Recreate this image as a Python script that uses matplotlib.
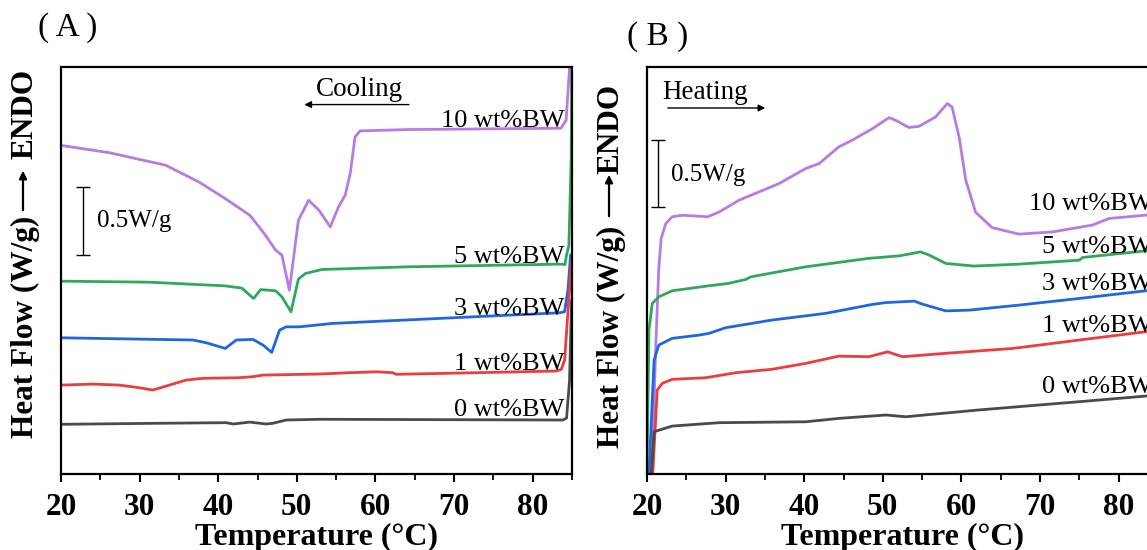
import matplotlib
matplotlib.use("Agg")
import matplotlib.pyplot as plt
from matplotlib.patches import FancyArrowPatch
from matplotlib.ticker import MultipleLocator

plt.rcParams["font.family"] = ["Liberation Serif", "DejaVu Serif"]

# ---- (A) cooling curves: temperature (C) and heat flow (W/g, stacked) ----
cool_10_t = [20.0, 26.2, 33.3, 37.6, 40.9, 44.0, 45.2, 46.0, 47.3, 48.1, 49.05, 50.2, 51.5, 52.8,
             54.25, 55.3, 56.15, 56.8, 57.4, 58.05, 64.2, 83.6, 84.25, 84.7, 84.8]
cool_10_q = [2.08, 2.03, 1.946, 1.831, 1.72, 1.608, 1.529, 1.473, 1.372, 1.338, 1.101, 1.574, 1.709,
             1.642, 1.529, 1.664, 1.743, 1.892, 2.137, 2.178, 2.187, 2.196, 2.25, 2.61, 3.0]
cool_5_t = [20.0, 31.2, 40.9, 43.0, 44.5, 45.4, 47.3, 48.1, 49.25, 50.2, 51.1, 53.2,
            64.2, 83.6, 84.1, 84.3, 84.6, 84.9, 85.0]
cool_5_q = [1.162, 1.155, 1.130, 1.115, 1.045, 1.105, 1.097, 1.056, 0.955, 1.176, 1.214, 1.241,
            1.259, 1.277, 1.274, 1.338, 1.40, 2.0, 3.0]
cool_3_t = [20.0, 36.8, 38.5, 40.9, 42.3, 44.4, 45.7, 46.8, 47.8, 48.65, 50.3, 54.5,
            83.4, 84.06, 84.48, 84.82]
cool_3_q = [0.779, 0.764, 0.745, 0.707, 0.764, 0.768, 0.730, 0.680, 0.831, 0.853, 0.853, 0.876,
            0.948, 0.955, 1.101, 1.338]
cool_1_t = [20.0, 24.05, 27.4, 29.6, 31.7, 33.4, 35.9, 38.0, 42.7, 44.4, 45.7, 52.9,
            56.7, 60.1, 62.2, 62.65, 83.0, 83.64, 84.06, 84.5, 84.95]
cool_1_q = [0.459, 0.466, 0.459, 0.444, 0.426, 0.453, 0.493, 0.505, 0.509, 0.516, 0.527, 0.534,
            0.543, 0.549, 0.543, 0.532, 0.554, 0.566, 0.628, 0.966, 1.304]
cool_0_t = [20.0, 32.5, 41.0, 41.9, 44.0, 46.1, 46.95, 48.65, 52.9, 83.84, 84.31, 84.69, 84.95]
cool_0_q = [0.194, 0.201, 0.205, 0.196, 0.209, 0.196, 0.201, 0.223, 0.228, 0.223, 0.236, 0.493, 1.03]

# ---- (B) heating curves ----
heat_10_t = [20.6, 21.1, 21.5, 21.8, 22.4, 23.2, 24.5, 27.7, 29.2, 31.7, 36.8, 40.2, 41.9,
             44.4, 46.1, 48.7, 50.8, 51.8, 53.3, 54.6, 56.7, 58.2, 58.8, 59.7, 60.55, 61.8,
             63.9, 67.3, 71.6, 76.65, 78.8, 83.45, 85.0]
heat_10_q = [-0.2, 0.70, 1.25, 1.45, 1.552, 1.597, 1.608, 1.597, 1.630, 1.709, 1.822, 1.924, 1.957,
             2.070, 2.115, 2.194, 2.268, 2.245, 2.201, 2.209, 2.272, 2.363, 2.340, 2.137, 1.845, 1.628,
             1.524, 1.480, 1.495, 1.541, 1.586, 1.608, 1.62]
heat_5_t = [20.0, 20.25, 20.67, 21.5, 23.2, 27.5, 30.4, 32.6, 33.2, 40.2, 48.2, 52.1, 54.8,
            55.9, 58.0, 61.6, 67.3, 75.0, 75.4, 83.45, 85.0]
heat_5_q = [-0.1, 0.831, 1.011, 1.056, 1.097, 1.128, 1.147, 1.174, 1.191, 1.259, 1.316, 1.333, 1.360,
            1.338, 1.282, 1.264, 1.277, 1.304, 1.322, 1.367, 1.375]
heat_3_t = [20.2, 20.9, 21.5, 23.2, 26.6, 27.9, 30.0, 35.9, 42.7, 44.4, 48.7, 50.4, 54.0,
            55.0, 58.0, 61.0, 67.3, 75.0, 83.45, 85.0]
heat_3_q = [-0.2, 0.628, 0.730, 0.775, 0.797, 0.809, 0.847, 0.899, 0.944, 0.961, 1.005, 1.017, 1.027,
            1.007, 0.961, 0.966, 1.0, 1.045, 1.097, 1.107]
heat_1_t = [20.67, 21.3, 21.95, 23.2, 27.5, 31.3, 35.9, 40.2, 44.4, 48.2, 50.6, 52.5, 58.0,
            66.5, 75.0, 83.45, 85.0]
heat_1_q = [-0.2, 0.426, 0.471, 0.498, 0.509, 0.543, 0.566, 0.606, 0.655, 0.651, 0.684, 0.651, 0.674,
            0.707, 0.764, 0.820, 0.83]
heat_0_t = [20.47, 20.9, 23.2, 29.2, 40.2, 44.4, 50.4, 52.9, 62.2, 75.0, 83.45, 85.0]
heat_0_q = [-0.2, 0.144, 0.182, 0.205, 0.211, 0.234, 0.257, 0.245, 0.291, 0.347, 0.385, 0.395]

series_names = ["10 wt%BW", "5 wt%BW", "3 wt%BW", "1 wt%BW", "0 wt%BW"]
colors = ["#B47CE4", "#2FA85C", "#1F66E0", "#EE3B3B", "#4A4A4A"]
label_y_a = [2.203, 1.284, 0.932, 0.561, 0.25]
label_y_b = [1.642, 1.353, 1.101, 0.820, 0.403]

cool_sets = [(cool_10_t, cool_10_q), (cool_5_t, cool_5_q), (cool_3_t, cool_3_q),
             (cool_1_t, cool_1_q), (cool_0_t, cool_0_q)]
heat_sets = [(heat_10_t, heat_10_q), (heat_5_t, heat_5_q), (heat_3_t, heat_3_q),
             (heat_1_t, heat_1_q), (heat_0_t, heat_0_q)]

W, H = 1147, 550
fig = plt.figure(figsize=(W / 100, H / 100), dpi=100)


def px_axes(left, top, right, bottom):
    return fig.add_axes([left / W, 1 - bottom / H, (right - left) / W, (bottom - top) / H])


def style_axes(ax):
    ax.set_xlim(20, 85)
    ax.set_ylim(-0.142, 2.61)
    ax.xaxis.set_major_locator(MultipleLocator(10))
    ax.xaxis.set_minor_locator(MultipleLocator(5))
    ax.set_yticks([])
    ax.tick_params(axis="x", which="major", direction="out", length=6, width=1.5,
                   labelsize=22.5, pad=8)
    ax.tick_params(axis="x", which="minor", direction="out", length=4, width=1.3)
    for lab in ax.get_xticklabels():
        lab.set_fontweight("bold")
    for sp in ax.spines.values():
        sp.set_linewidth(1.6)
    ax.set_xlabel("Temperature (°C)", fontsize=23, fontweight="bold", labelpad=0)


axA = px_axes(61, 67, 572, 474)
axB = px_axes(647, 67, 1158, 474)

for (t, q), c in zip(cool_sets, colors):
    axA.plot(t, q, color=c, lw=2.0, solid_joinstyle="round")
for (t, q), c in zip(heat_sets, colors):
    axB.plot(t, q, color=c, lw=2.0, solid_joinstyle="round")

for ax in (axA, axB):
    style_axes(ax)

for name, ya, yb in zip(series_names, label_y_a, label_y_b):
    axA.text(84.05, ya, name, fontsize=19, ha="right", va="baseline")
    axB.text(84.3, yb, name, fontsize=19, ha="right", va="baseline")

# scale bars (0.5 W/g)
axA.errorbar([22.8], [1.341], yerr=[[0.0], [0.456]], color="black", lw=1, capsize=5, capthick=1)
axA.text(24.6, 1.568, "0.5W/g", fontsize=18, va="center")
axB.errorbar([21.4], [1.664], yerr=[[0.0], [0.451]], color="black", lw=1, capsize=5, capthick=1)
axB.text(23.1, 1.877, "0.5W/g", fontsize=18, va="center")

# process direction arrows
axA.text(57.9, 2.412, "Cooling", fontsize=19.5, ha="center", va="baseline")
axA.annotate("", xy=(50.6, 2.356), xytext=(64.6, 2.356),
             arrowprops=dict(arrowstyle="-|>", lw=1, color="black", mutation_scale=10))
axB.text(22.0, 2.397, "Heating", fontsize=19.5, ha="left", va="baseline")
axB.annotate("", xy=(35.4, 2.333), xytext=(22.3, 2.333),
             arrowprops=dict(arrowstyle="-|>", lw=1, color="black", mutation_scale=10))

# y labels: Heat Flow (W/g) --> ENDO
for xc, xa, yc_hf, y_arrow0, y_arrow1, yc_endo in [(25, 23, 327, 213, 168, 113.5),
                                                   (611, 609, 337, 219, 172, 129)]:
    fig.text(xc / W, 1 - yc_hf / H, "Heat Flow (W/g)", rotation=90, fontsize=22.5,
             fontweight="bold", ha="center", va="center")
    fig.text(xc / W, 1 - yc_endo / H, "ENDO", rotation=90, fontsize=22.5,
             fontweight="bold", ha="center", va="center")
    fig.add_artist(FancyArrowPatch(
        (xa / W, 1 - y_arrow0 / H), (xa / W, 1 - y_arrow1 / H),
        transform=fig.transFigure, arrowstyle="-|>", mutation_scale=11, lw=1.6, color="black"))

fig.text(38 / W, 1 - 28 / H, "( A )", fontsize=24, va="center")
fig.text(627 / W, 1 - 37 / H, "( B )", fontsize=24, va="center")

fig.savefig("out.png", dpi=100)
